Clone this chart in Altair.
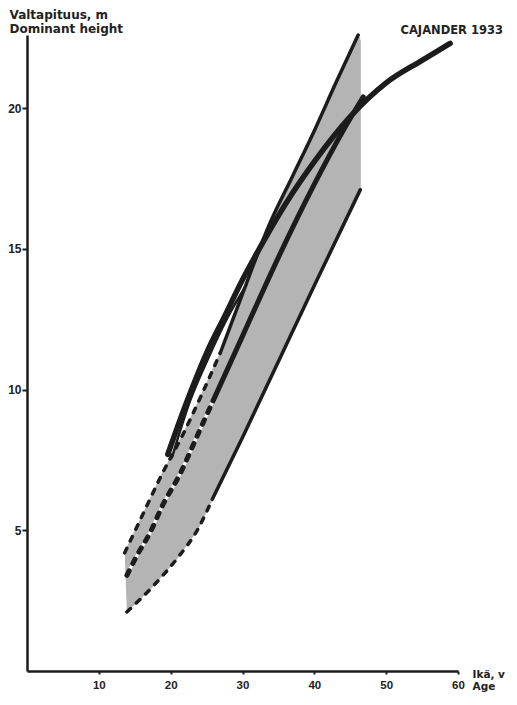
import altair as alt
import pandas as pd

# ---- data (age in years, dominant height in m) ----
upper_dash_age = [13.6, 16.0, 18.8, 21.7, 24.1, 26.9]
upper_dash_h = [4.2, 5.5, 7.0, 8.4, 9.7, 11.3]
upper_solid_age = [26.9, 30.0, 33.8, 37.0, 40.0, 43.0, 46.1]
upper_solid_h = [11.3, 13.4, 15.9, 17.6, 19.2, 20.9, 22.6]

mid_dash_age = [13.9, 15.3, 17.1, 18.9, 21.3, 23.6, 25.9]
mid_dash_h = [3.4, 4.1, 4.9, 5.9, 7.0, 8.3, 9.6]
mid_solid_age = [25.9, 30.0, 35.0, 40.0, 44.0, 46.8]
mid_solid_h = [9.6, 11.9, 14.7, 17.3, 19.2, 20.4]

low_dash_age = [13.9, 17.5, 20.9, 23.7, 25.8]
low_dash_h = [2.1, 3.0, 4.0, 5.0, 6.1]
low_solid_age = [25.8, 30.0, 35.0, 40.0, 46.4]
low_solid_h = [6.1, 8.3, 11.0, 13.7, 17.1]

thin_age = [20.2, 22.7, 25.2, 27.8, 30.5]
thin_h = [7.6, 9.6, 11.1, 12.5, 13.7]

cajander_age = [19.6, 22.0, 25.0, 27.5, 30.0, 33.0, 36.0, 40.0, 45.0, 50.0, 55.0, 58.9]
cajander_h = [7.7, 9.4, 11.3, 12.6, 13.9, 15.3, 16.6, 18.1, 19.7, 20.9, 21.7, 22.3]

shade_right_age = 46.4
shade_top_h = 22.4

label_text = ["CAJANDER 1933"]
label_age = [52.0]
label_h = [22.75]

x_ticks = [10, 20, 30, 40, 50, 60]
y_ticks = [5, 10, 15, 20]

INK = "#1c1c1c"
FONT = "DejaVu Sans"
NUMFONT = "Liberation Sans"

X = alt.X(
    "age:Q",
    scale=alt.Scale(domain=[0, 60], nice=False, zero=True),
    axis=alt.Axis(
        values=x_ticks, grid=False, tickSize=3, tickWidth=2, tickColor=INK,
        domainColor=INK, domainWidth=2.5, labelFont=NUMFONT, labelFontWeight="bold",
        labelFontSize=11.5, labelColor="#222", labelPadding=5, labelFlush=False,
        title=["Ikä, v", "Age"], titleFont=FONT, titleFontWeight="bold",
        titleFontSize=10.5, titleColor="#222", titleAngle=0, titleAlign="left",
        titleBaseline="alphabetic", titleX=445, titleY=6, titleLineHeight=12.5,
    ),
)
Y = alt.Y(
    "h:Q",
    scale=alt.Scale(domain=[0, 22.6], nice=False, zero=True),
    axis=alt.Axis(
        values=y_ticks, grid=False, tickSize=5, tickWidth=2, tickColor=INK,
        domainColor=INK, domainWidth=2.5, labelFont=NUMFONT, labelFontWeight="bold",
        labelFontSize=12, labelColor="#222", labelPadding=1,
        title=["Valtapituus, m", "Dominant height"], titleFont=FONT,
        titleFontWeight="bold", titleFontSize=12, titleColor="#222",
        titleAngle=0, titleAlign="left", titleBaseline="alphabetic",
        titleX=-18, titleY=-17, titleLineHeight=14,
    ),
)


def line_layer(ages, hs, width, dash=None, color=INK, cap="round"):
    df = pd.DataFrame({"age": ages, "h": hs, "i": list(range(len(ages)))})
    kw = dict(strokeWidth=width, color=color, strokeCap=cap, strokeJoin="round",
              interpolate="monotone")
    if dash is not None:
        kw["strokeDash"] = dash
    return alt.Chart(df).mark_line(**kw).encode(x=X, y=Y, order="i:Q")


# shaded band polygon built from the boundary curves
poly_age = (upper_dash_age + upper_solid_age[1:] + [shade_right_age, shade_right_age]
            + low_solid_age[::-1][1:] + low_dash_age[::-1][1:])
poly_h = (upper_dash_h + upper_solid_h[1:] + [shade_top_h, low_solid_h[-1]]
          + low_solid_h[::-1][1:] + low_dash_h[::-1][1:])
poly_df = pd.DataFrame({"age": poly_age, "h": poly_h, "i": list(range(len(poly_age)))})
shade = alt.Chart(poly_df).mark_line(
    fill="#b4b4b4", color="#b4b4b4", strokeWidth=1, fillOpacity=1
).encode(x=X, y=Y, order="i:Q")

layers = [
    shade,
    line_layer(low_dash_age, low_dash_h, 3.5, dash=[5, 8]),
    line_layer(upper_dash_age, upper_dash_h, 3.5, dash=[5, 8]),
    line_layer(mid_dash_age, mid_dash_h, 3.0, color="white", cap="butt"),
    line_layer(mid_dash_age, mid_dash_h, 5.0, dash=[5, 8]),
    line_layer(low_solid_age, low_solid_h, 3.5),
    line_layer(upper_solid_age, upper_solid_h, 3.5),
    line_layer(thin_age, thin_h, 2.5),
    line_layer(mid_solid_age, mid_solid_h, 5.0),
    line_layer(cajander_age, cajander_h, 5.5),
]

label_df = pd.DataFrame({"age": label_age, "h": label_h, "t": label_text})
label = alt.Chart(label_df).mark_text(
    align="left", baseline="middle", font=FONT, fontWeight="bold",
    fontSize=11.5, color="#222"
).encode(x=X, y=Y, text="t:N")

chart = alt.layer(*layers, label).properties(
    width=431,
    height=636,
    autosize=alt.AutoSizeParams(type="none"),
    padding={"left": 19, "top": 27, "right": 51, "bottom": 21},
    background="white",
).configure_view(strokeWidth=0)

chart.save("out.html", embed_options={"renderer": "svg", "actions": False})
